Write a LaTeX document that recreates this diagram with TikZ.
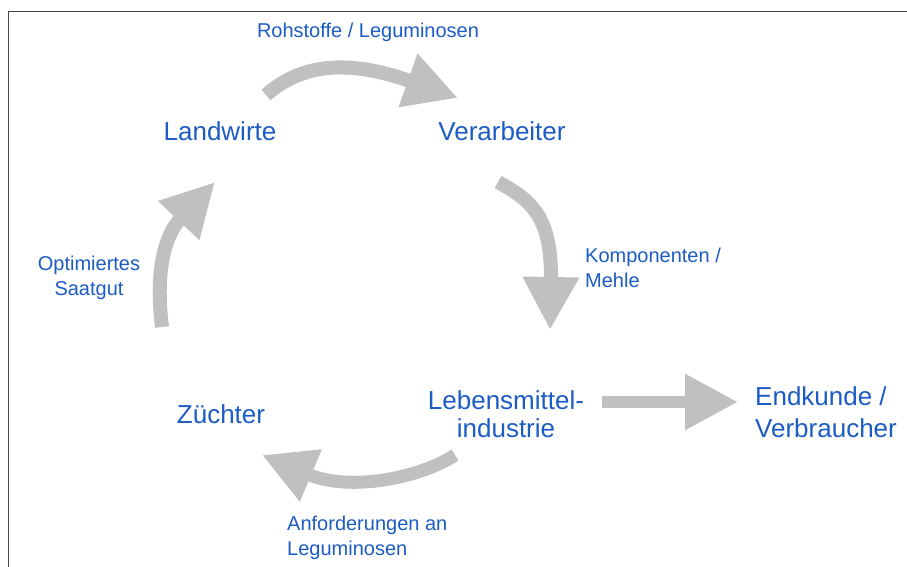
\documentclass[tikz,border=0pt]{standalone}
\usepackage{fontspec}
\setmainfont{Liberation Sans}
\usetikzlibrary{arrows.meta}
\definecolor{lblue}{RGB}{28,92,196}
\definecolor{agray}{RGB}{192,192,192}
\definecolor{framegray}{RGB}{70,70,70}
\begin{document}
\begin{tikzpicture}[x=1pt,y=-1pt,
  big/.style={text=lblue,font=\fontsize{26}{32}\selectfont,inner sep=0pt},
  small/.style={text=lblue,font=\fontsize{20}{25}\selectfont,inner sep=0pt},
  flow/.style={draw=agray,line width=14pt,-{Triangle[length=53pt,width=53pt]}},
  frameline/.style={draw=framegray,line width=1.5pt}
]
\useasboundingbox (0,0) rectangle (907,567);
\fill[white] (0,0) rectangle (907,567);
% frame (top and left edges of the scanned box)
\coordinate (fbl) at (8.5,567);
\coordinate (ftl) at (8.5,11.5);
\coordinate (ftr) at (907,11.5);
\draw[frameline] (fbl) -- (ftl) -- (ftr);

% main labels (multi-line nodes: base = baseline of last line)
\node[big,anchor=base] (landwirte) at (220,140) {Landwirte};
\node[big,anchor=base] (verarbeiter) at (502,140) {Verarbeiter};
\node[big,anchor=base] (zuechter) at (221,423) {Züchter};
\node[big,anchor=base,align=center,font=\fontsize{26}{28}\selectfont] (lmi) at (506,437) {Lebensmittel-\\industrie};
\node[big,anchor=base west,align=left] (endkunde) at (755,437) {Endkunde /\\Verbraucher};

% flow labels
\node[small,anchor=base] (rohstoffe) at (368,38) {Rohstoffe / Leguminosen};
\node[small,anchor=base west,align=left] (komp) at (585,287) {Komponenten /\\Mehle};
\node[small,anchor=base,align=center] (saat) at (89,295) {Optimiertes\\Saatgut};
\node[small,anchor=base west,align=left] (anf) at (287,555) {Anforderungen an\\Leguminosen};

% arrow end points
\coordinate (a1s) at (266,95);
\coordinate (a1e) at (458,98);
\coordinate (a2s) at (498,182);
\coordinate (a2e) at (550,330);
\coordinate (a3s) at (455,455);
\coordinate (a3e) at (262,455);
\coordinate (a4s) at (162,327);
\coordinate (a4e) at (215,182);
\coordinate (a5s) at (602,402);
\coordinate (a5e) at (738,402);

% cycle arrows
\draw[flow] (a1s) .. controls (300,65) and (345,58) .. (a1e);
\draw[flow] (a2s) .. controls (530,200) and (552,215) .. (a2e);
\draw[flow,line width=13pt] (a3s) .. controls (420,478) and (350,492) .. (a3e);
\draw[flow] (a4s) .. controls (155,270) and (165,235) .. (a4e);
% straight arrow to consumers
\draw[flow,line width=12pt] (a5s) -- (a5e);
\end{tikzpicture}
\end{document}
